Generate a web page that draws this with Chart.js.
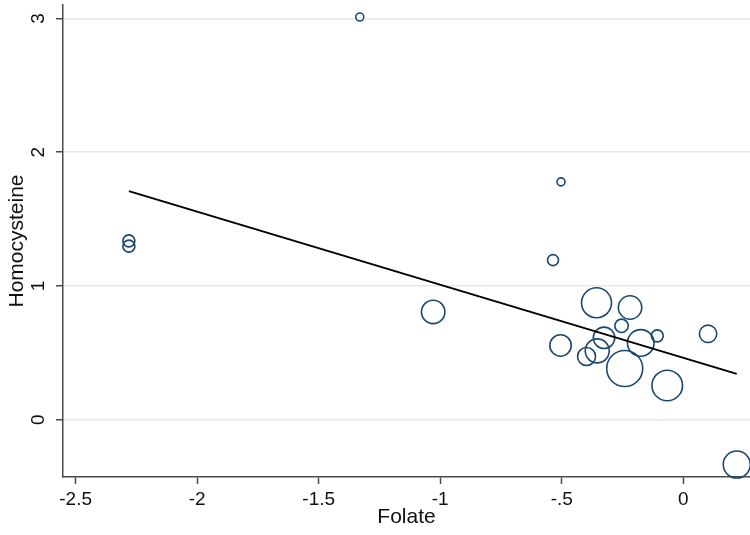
<!DOCTYPE html>
<html lang="en">
<head>
    <meta charset="UTF-8">
    <title>Folate vs Homocysteine</title>
    <script src="https://cdn.jsdelivr.net/npm/chart.js"></script>
    <style>
        body { margin: 0; background: #fff; }
    </style>
</head>
<body>
<canvas id="bubbleChart" width="750" height="535"></canvas>
<script>
    // study points
    var folate = [-1.331, -0.503, -0.536, -2.281, -2.281, -1.029, -0.357, -0.219, -0.254, -0.505,
                  -0.326, -0.398, -0.354, -0.175, -0.107, -0.241, -0.066, 0.102, 0.220];
    var homocysteine = [3.01, 1.778, 1.193, 1.337, 1.298, 0.806, 0.874, 0.839, 0.702, 0.555,
                        0.612, 0.473, 0.515, 0.574, 0.627, 0.383, 0.256, 0.642, -0.335];
    var weights = [4, 4, 5.5, 6, 6, 11.7, 15, 11.7, 6.7, 10.7,
                   10.7, 9, 12, 13.3, 6, 18, 15.3, 8.7, 13.5];

    // fitted line ends
    var fitX = [-2.281, 0.220];
    var fitY = [1.709, 0.343];

    var xTicks = [-2.5, -2, -1.5, -1, -0.5, 0];
    var xTickLabels = ['-2.5', '-2', '-1.5', '-1', '-.5', '0'];
    var yTicks = [0, 1, 2, 3];

    var bubbles = folate.map(function (x, i) {
        return { x: x, y: homocysteine[i], r: weights[i] };
    });
    var fitLine = fitX.map(function (x, i) {
        return { x: x, y: fitY[i] };
    });

    var axisColor = '#4a4a4a';
    var font = { family: 'Liberation Sans, Arial, sans-serif', size: 19 };
    var titleFont = { family: 'Liberation Sans, Arial, sans-serif', size: 21 };

    var ctx = document.getElementById('bubbleChart').getContext('2d');
    var chart = new Chart(ctx, {
        type: 'bubble',
        data: {
            datasets: [{
                type: 'line',
                data: fitLine,
                borderColor: '#000',
                borderWidth: 2,
                pointRadius: 0,
                fill: false
            }, {
                data: bubbles,
                borderColor: '#1a476f',
                backgroundColor: 'rgba(0,0,0,0)',
                borderWidth: 1.6,
                clip: false
            }]
        },
        options: {
            responsive: false,
            animation: false,
            layout: { autoPadding: false, padding: { top: 5, right: 0, left: 0, bottom: 0 } },
            plugins: { legend: { display: false }, tooltip: { enabled: false } },
            scales: {
                x: {
                    type: 'linear',
                    min: -2.552,
                    max: 0.2745,
                    afterBuildTicks: function (scale) {
                        scale.ticks = xTicks.map(function (v) { return { value: v }; });
                    },
                    afterFit: function (scale) {
                        scale.height = 58;
                        scale.paddingLeft = 0;
                        scale.paddingRight = 0;
                    },
                    ticks: {
                        font: font,
                        color: '#111',
                        padding: 4,
                        maxRotation: 0,
                        callback: function (v) { return xTickLabels[xTicks.indexOf(v)]; }
                    },
                    grid: {
                        drawOnChartArea: false,
                        tickLength: 7,
                        tickColor: axisColor,
                        tickWidth: 1.5
                    },
                    border: { color: axisColor, width: 1.5 },
                    title: {
                        display: true,
                        text: 'Folate',
                        font: titleFont,
                        color: '#111',
                        padding: { top: 0, bottom: 5 }
                    }
                },
                y: {
                    min: -0.428,
                    max: 3.1,
                    afterBuildTicks: function (scale) {
                        scale.ticks = yTicks.map(function (v) { return { value: v }; });
                    },
                    afterFit: function (scale) {
                        scale.width = 63;
                        scale.paddingTop = 0;
                        scale.paddingBottom = 0;
                    },
                    ticks: {
                        font: font,
                        color: '#111',
                        padding: 12,
                        minRotation: 90,
                        maxRotation: 90,
                        crossAlign: 'center'
                    },
                    grid: {
                        color: '#e6e9ea',
                        lineWidth: 1.5,
                        tickLength: 7,
                        tickColor: axisColor,
                        tickWidth: 1.5
                    },
                    border: { color: axisColor, width: 1.5 },
                    title: {
                        display: true,
                        text: 'Homocysteine',
                        font: titleFont,
                        color: '#111',
                        padding: { top: 5, bottom: 0 }
                    }
                }
            }
        }
    });
</script>
</body>
</html>
